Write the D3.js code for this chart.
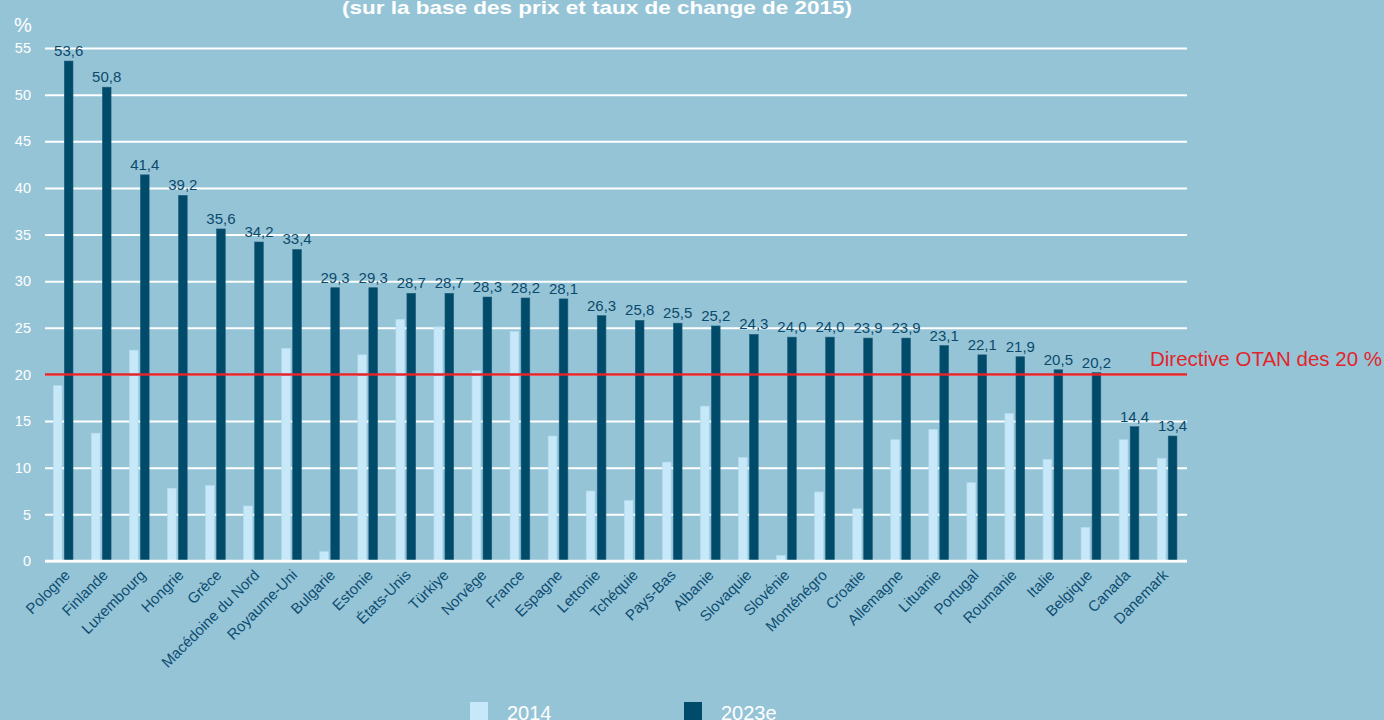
<!DOCTYPE html>
<html>
<head>
<meta charset="utf-8">
<script src="https://cdn.jsdelivr.net/npm/d3@7"></script>
<style>
  body { margin: 0; background: #96c4d7; }
  svg { display: block; font-family: "Liberation Sans", Arial, sans-serif; }
</style>
</head>
<body>
<div class="chart"></div>
<script>
const countries = ["Pologne","Finlande","Luxembourg","Hongrie","Grèce","Macédoine du Nord","Royaume-Uni","Bulgarie","Estonie","États-Unis","Türkiye","Norvège","France","Espagne","Lettonie","Tchéquie","Pays-Bas","Albanie","Slovaquie","Slovénie","Monténégro","Croatie","Allemagne","Lituanie","Portugal","Roumanie","Italie","Belgique","Canada","Danemark"];
const values2014 = [18.8,13.7,22.6,7.8,8.1,5.9,22.8,1.0,22.1,25.9,25.1,20.4,24.6,13.4,7.5,6.5,10.6,16.6,11.1,0.6,7.4,5.6,13.0,14.1,8.4,15.8,10.9,3.6,13.0,11.0];
const values2023 = [53.6,50.8,41.4,39.2,35.6,34.2,33.4,29.3,29.3,28.7,28.7,28.3,28.2,28.1,26.3,25.8,25.5,25.2,24.3,24.0,24.0,23.9,23.9,23.1,22.1,21.9,20.5,20.2,14.4,13.4];
const series = ["2014","2023e"];
const yTicks = [0,5,10,15,20,25,30,35,40,45,50,55];
const guideline = 20;
const guideLabel = "Directive OTAN des 20 %";
const subtitle = "(sur la base des prix et taux de change de 2015)";

const W = 1384, H = 720;
const m = { left: 45, right: 1187, top: 48, bottom: 561 };
const light = "#c6e8f8", dark = "#004a6a", red = "#e3242b";

const svg = d3.select(".chart").append("svg")
  .attr("width", W).attr("height", H);

svg.append("rect").attr("width", W).attr("height", H).attr("fill", "#96c4d7");

const x = d3.scaleBand().domain(countries).range([m.left, m.right]);
const sub = d3.scaleBand().domain(series).range([8.3, 28]).paddingInner(0.21);
const y = d3.scaleLinear().domain([0, 55]).range([m.bottom, m.top]);
const color = d3.scaleOrdinal().domain(series).range([light, dark]);
// category labels sit on a slightly tighter spacing than the bars
const xLabel = d3.scalePoint().domain(countries).range([71, 1169]);

// title (cut off at top)
svg.append("text")
  .attr("x", 597).attr("y", 14)
  .attr("text-anchor", "middle")
  .attr("fill", "#fff")
  .attr("font-weight", "bold")
  .attr("font-size", 19)
  .attr("textLength", 510)
  .attr("lengthAdjust", "spacingAndGlyphs")
  .text(subtitle);

svg.append("text")
  .attr("x", 14).attr("y", 32)
  .attr("fill", "#fff").attr("font-size", 20)
  .text("%");

// grid + y labels
const yAxis = svg.append("g")
  .attr("transform", `translate(${m.left},0)`)
  .call(d3.axisLeft(y).tickValues(yTicks).tickSize(-(m.right - m.left)).tickPadding(14));
yAxis.select(".domain").remove();
yAxis.selectAll(".tick line").attr("stroke", "#fff").attr("stroke-width", 2);
yAxis.selectAll(".tick text").attr("fill", "#fff").attr("font-size", 14.5)
  .attr("font-family", "Liberation Sans, Arial, sans-serif");

// bars
const rows = countries.map((c, i) => ({ c, v: [values2014[i], values2023[i]] }));
const groups = svg.append("g").selectAll("g")
  .data(rows).join("g")
  .attr("transform", d => `translate(${x(d.c)},0)`);

groups.selectAll("rect")
  .data(d => series.map((s, j) => ({ s, v: d.v[j] })))
  .join("rect")
  .attr("x", d => sub(d.s))
  .attr("width", sub.bandwidth())
  .attr("y", d => y(d.v))
  .attr("height", d => y(0) - y(d.v))
  .attr("fill", d => color(d.s))
  .attr("stroke", d => d.s === "2014" ? "#b4dcee" : "#1f5f7c")
  .attr("stroke-width", 0.6);

groups.append("text")
  .attr("x", sub("2023e") + sub.bandwidth() / 2)
  .attr("y", d => y(d.v[1]) - 5)
  .attr("text-anchor", "middle")
  .attr("fill", "#0b4a6b")
  .attr("font-size", 15)
  .text(d => d3.format(".1f")(d.v[1]).replace(".", ","));

// zero line
svg.append("line")
  .attr("x1", m.left).attr("x2", m.right)
  .attr("y1", y(0)).attr("y2", y(0))
  .attr("stroke", "#fff").attr("stroke-width", 2.5);

// NATO guideline
svg.append("line")
  .attr("x1", m.left).attr("x2", m.right)
  .attr("y1", y(guideline)).attr("y2", y(guideline))
  .attr("stroke", red).attr("stroke-width", 2.5);
svg.append("text")
  .attr("x", 1150).attr("y", y(guideline) - 8)
  .attr("fill", red).attr("font-size", 20.5)
  .text(guideLabel);

// x labels
svg.append("g").selectAll("text")
  .data(countries).join("text")
  .attr("transform", d => `translate(${xLabel(d)},576) rotate(-45)`)
  .attr("text-anchor", "end")
  .attr("fill", "#0d4d70")
  .attr("font-size", 15)
  .text(d => d);

// legend
const legend = svg.append("g").selectAll("g")
  .data(series).join("g")
  .attr("transform", (d, i) => `translate(${470 + i * 214},702)`);
legend.append("rect").attr("width", 18).attr("height", 20).attr("fill", d => color(d));
legend.append("text")
  .attr("x", 37).attr("y", 18)
  .attr("fill", "#fff").attr("font-size", 20)
  .text(d => d);
</script>
</body>
</html>
